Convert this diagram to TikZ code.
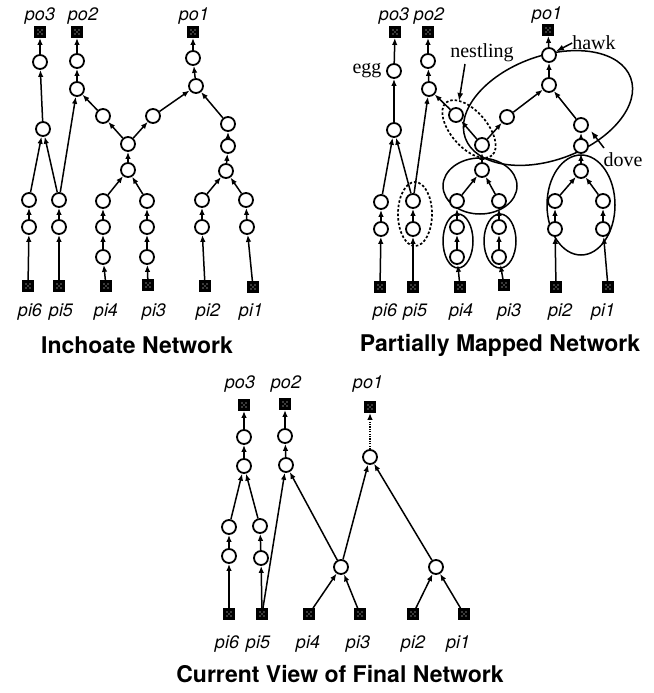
\documentclass[tikz,border=0pt]{standalone}
\usepackage{fontspec}
\setmainfont{Liberation Serif}
\newfontfamily\lblfont{TeX Gyre Heros}
\usetikzlibrary{arrows.meta}

\tikzset{
  unit/.style={circle, draw, fill=white, line width=1.8pt, minimum size=14pt, inner sep=0pt},
  port/.style={rectangle, fill=black, minimum size=11.5pt, inner sep=0pt,
    path picture={
      \foreach \dx/\dy in {-2/-2,2/-2,-2/2,2/2,0/0}
        \fill[white] ([xshift=\dx pt,yshift=\dy pt]path picture bounding box.center) circle (0.55pt);
    }},
  lbl/.style={font=\lblfont\itshape\fontsize{18}{20}\selectfont, inner sep=0pt},
  titletext/.style={font=\lblfont\bfseries\fontsize{23}{25}\selectfont, inner sep=0pt},
  note/.style={font=\fontsize{20}{22}\selectfont, inner sep=0pt},
  link/.style={line width=1.5pt, -{Latex[length=7pt,width=5.5pt]}},
  pointer/.style={line width=1.5pt, -{Latex[length=8pt,width=6pt]}},
  group/.style={line width=1.5pt},
  dgroup/.style={line width=1.7pt, dash pattern=on 2.5pt off 2pt},
}

\begin{document}
\begin{tikzpicture}[x=1pt,y=-1pt]
\useasboundingbox (0,0) rectangle (653,693);

% ---------------- Inchoate network ----------------
\node[port] (Apo3) at (40,32) {};
\node[port] (Apo2) at (77,32) {};
\node[port] (Apo1) at (193,32) {};
\node[lbl] (Alpo3) at (40,16) {po3};
\node[lbl] (Alpo2) at (83,16) {po2};
\node[lbl] (Alpo1) at (194,16) {po1};
\node[port] (Api6) at (28,286) {};
\node[port] (Api5) at (59,286) {};
\node[port] (Api4) at (106,286) {};
\node[port] (Api3) at (148,285) {};
\node[port] (Api2) at (205,286) {};
\node[port] (Api1) at (253,287) {};
\node[lbl] (Alpi6) at (30,312) {pi6};
\node[lbl] (Alpi5) at (61,312) {pi5};
\node[lbl] (Alpi4) at (106,312) {pi4};
\node[lbl] (Alpi3) at (154,312) {pi3};
\node[lbl] (Alpi2) at (208,312) {pi2};
\node[lbl] (Alpi1) at (251,312) {pi1};

\node[unit] (A1) at (40,62) {};
\node[unit] (A2) at (43,129) {};
\node[unit] (A3) at (77,61) {};
\node[unit] (A4) at (77,89) {};
\node[unit] (A5) at (103,116) {};
\node[unit] (A6) at (153,116) {};
\node[unit] (A7) at (128,144) {};
\node[unit] (A8) at (128,170) {};
\node[unit] (A9) at (193,58) {};
\node[unit] (A10) at (196,86) {};
\node[unit] (A11) at (228,124) {};
\node[unit] (A12) at (228,146) {};
\node[unit] (A13) at (226,171) {};
\node[unit] (A14) at (29,200) {};
\node[unit] (A15) at (29,227) {};
\node[unit] (A16) at (59,200) {};
\node[unit] (A17) at (59,227) {};
\node[unit] (A18) at (103,201) {};
\node[unit] (A19) at (103,227) {};
\node[unit] (A20) at (103,257) {};
\node[unit] (A21) at (147,201) {};
\node[unit] (A22) at (147,227) {};
\node[unit] (A23) at (147,257) {};
\node[unit] (A24) at (202,200) {};
\node[unit] (A25) at (202,227) {};
\node[unit] (A26) at (246,200) {};
\node[unit] (A27) at (247,227) {};

\foreach \s/\t in {Api6/A15, A15/A14, A14/A2, A2/A1, A1/Apo3,
                   Api5/A17, A17/A16, A16/A2, A16/A4, A4/A3, A3/Apo2,
                   A5/A4, A7/A5, A7/A6, A6/A10, A8/A7,
                   Api4/A20, A20/A19, A19/A18, A18/A8,
                   Api3/A23, A23/A22, A22/A21, A21/A8,
                   Api2/A25, A25/A24, A24/A13,
                   Api1/A27, A27/A26, A26/A13,
                   A13/A12, A12/A11, A11/A10, A10/A9, A9/Apo1}
  \draw[link] (\s) -- (\t);

\node[titletext] (Acap) at (137,345) {Inchoate Network};

% ---------------- Partially mapped network ----------------
% groupings drawn first so the units sit on top
\draw[group, rotate around={20:(548,108)}] (548,108) ellipse [x radius=88, y radius=52];
\draw[dgroup, rotate around={-49:(469,129)}] (469,129) ellipse [x radius=35, y radius=18];
\draw[group] (480,186) ellipse [x radius=37, y radius=28];
\draw[group] (458,241) ellipse [x radius=15, y radius=27];
\draw[group] (500,241) ellipse [x radius=16, y radius=27];
\draw[group] (581,205) ellipse [x radius=34, y radius=50];
\draw[dgroup] (415,214) ellipse [x radius=17, y radius=32];

\node[port] (Bpo3) at (395,32) {};
\node[port] (Bpo2) at (428,32) {};
\node[port] (Bpo1) at (548,30) {};
\node[lbl] (Blpo3) at (394,16) {po3};
\node[lbl] (Blpo2) at (429,16) {po2};
\node[lbl] (Blpo1) at (547,15) {po1};
\node[port] (Bpi6) at (380,287) {};
\node[port] (Bpi5) at (413,287) {};
\node[port] (Bpi4) at (460,287) {};
\node[port] (Bpi3) at (504,285) {};
\node[port] (Bpi2) at (556,287) {};
\node[port] (Bpi1) at (608,287) {};
\node[lbl] (Blpi6) at (385,312) {pi6};
\node[lbl] (Blpi5) at (415,312) {pi5};
\node[lbl] (Blpi4) at (461,312) {pi4};
\node[lbl] (Blpi3) at (509,312) {pi3};
\node[lbl] (Blpi2) at (560,312) {pi2};
\node[lbl] (Blpi1) at (603,312) {pi1};

\node[unit] (B1) at (394,71) {};
\node[unit] (B2) at (394,130) {};
\node[unit] (B3) at (428,61) {};
\node[unit] (B4) at (429,89) {};
\node[unit] (B5) at (456,115) {};
\node[unit] (B6) at (507,117) {};
\node[unit] (B7) at (482,145) {};
\node[unit] (B8) at (482,170) {};
\node[unit] (B9) at (549,55) {};
\node[unit] (B10) at (549,85) {};
\node[unit] (B11) at (581,125) {};
\node[unit] (B12) at (581,146) {};
\node[unit] (B13) at (581,171) {};
\node[unit] (B14) at (381,202) {};
\node[unit] (B15) at (381,229) {};
\node[unit] (B16) at (413,201) {};
\node[unit] (B17) at (413,229) {};
\node[unit] (B18) at (457,201) {};
\node[unit] (B19) at (457,227) {};
\node[unit] (B20) at (457,257) {};
\node[unit] (B21) at (499,201) {};
\node[unit] (B22) at (499,227) {};
\node[unit] (B23) at (499,257) {};
\node[unit] (B24) at (555,201) {};
\node[unit] (B25) at (555,229) {};
\node[unit] (B26) at (603,201) {};
\node[unit] (B27) at (603,229) {};

\foreach \s/\t in {Bpi6/B15, B15/B14, B14/B2, B2/B1, B1/Bpo3,
                   Bpi5/B17, B17/B16, B16/B2, B16/B4, B4/B3, B3/Bpo2,
                   B5/B4, B7/B5, B7/B6, B6/B10, B8/B7,
                   Bpi4/B20, B20/B19, B19/B18, B18/B8,
                   Bpi3/B23, B23/B22, B22/B21, B21/B8,
                   Bpi2/B25, B25/B24, B24/B13,
                   Bpi1/B27, B27/B26, B26/B13,
                   B13/B12, B12/B11, B11/B10, B10/B9, B9/Bpo1}
  \draw[link] (\s) -- (\t);

\node[note] (egg) at (367,71) {egg};
\node[note] (nestling) at (482,53) {nestling};
\node[note] (hawk) at (594,43) {hawk};
\node[note] (dove) at (623,160) {dove};
\coordinate (nestTail) at (465,64);
\coordinate (nestTip) at (459,101);
\coordinate (doveTail) at (604,148);
\coordinate (doveTip) at (591,131);
\draw[pointer] (nestTail) -- (nestTip);
\draw[pointer] (hawk.west) -- (B9);
\draw[pointer] (doveTail) -- (doveTip);

\node[titletext] (Bcap) at (500,345) {Partially Mapped Network};

% ---------------- Current view of final network ----------------
\node[port] (Cpo3) at (244,405) {};
\node[port] (Cpo2) at (285,404) {};
\node[port] (Cpo1) at (370,407) {};
\node[lbl] (Clpo3) at (240,384) {po3};
\node[lbl] (Clpo2) at (286,384) {po2};
\node[lbl] (Clpo1) at (368,384) {po1};
\node[port] (Cpi6) at (229,614) {};
\node[port] (Cpi5) at (262,614) {};
\node[port] (Cpi4) at (309,614) {};
\node[port] (Cpi3) at (360,614) {};
\node[port] (Cpi2) at (413,614) {};
\node[port] (Cpi1) at (464,614) {};
\node[lbl] (Clpi6) at (227,644) {pi6};
\node[lbl] (Clpi5) at (258,644) {pi5};
\node[lbl] (Clpi4) at (308,644) {pi4};
\node[lbl] (Clpi3) at (358,644) {pi3};
\node[lbl] (Clpi2) at (413,644) {pi2};
\node[lbl] (Clpi1) at (458,644) {pi1};

\node[unit] (C1) at (244,437) {};
\node[unit] (C2) at (244,466) {};
\node[unit] (C3) at (285,436) {};
\node[unit] (C4) at (286,465) {};
\node[unit] (C5) at (370,457) {};
\node[unit] (C6) at (229,527) {};
\node[unit] (C7) at (229,556) {};
\node[unit] (C8) at (260,526) {};
\node[unit] (C9) at (261,558) {};
\node[unit] (C10) at (341,567) {};
\node[unit] (C11) at (436,567) {};

\foreach \s/\t in {Cpi6/C7, C7/C6, C6/C2, C2/C1, C1/Cpo3,
                   Cpi5/C9, C9/C8, C8/C2,
                   Cpi5/C4, C4/C3, C3/Cpo2,
                   Cpi4/C10, Cpi3/C10, C10/C4, C10/C5,
                   Cpi2/C11, Cpi1/C11, C11/C5}
  \draw[link] (\s) -- (\t);
\draw[link, line width=1.8pt, dash pattern=on 1.2pt off 1.2pt] (C5) -- (Cpo1);

\node[titletext] (Ccap) at (340,674) {Current View of Final Network};
\end{tikzpicture}
\end{document}
